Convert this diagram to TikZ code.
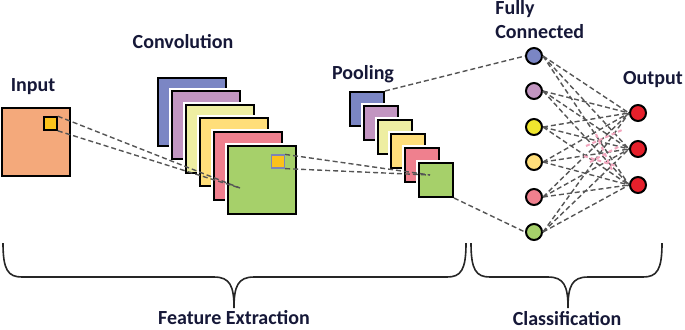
\documentclass[tikz,border=0pt]{standalone}
\usepackage{fontspec}
\setmainfont{Carlito}

\definecolor{txtnavy}{HTML}{161838}
\definecolor{inorange}{HTML}{F4A97B}
\definecolor{winyellow}{HTML}{FBC21B}
\definecolor{mapblue}{HTML}{7B86C4}
\definecolor{mappurple}{HTML}{C295C1}
\definecolor{maplemon}{HTML}{EEEEA2}
\definecolor{mapyellow}{HTML}{FFDE7A}
\definecolor{mappink}{HTML}{EF808E}
\definecolor{mapgreen}{HTML}{A6D06A}
\definecolor{fcyellow}{HTML}{F0E62E}
\definecolor{outred}{HTML}{E5202B}
\definecolor{linkgray}{HTML}{555555}
\definecolor{glowpink}{HTML}{F2A6BE}

\begin{document}
\begin{tikzpicture}[x=0.5pt,y=-0.5pt,
  lbl/.style={font=\bfseries, text=txtnavy, inner sep=0pt},
  fmap/.style={draw=black, line width=1pt, minimum size=34pt, inner sep=0pt,
    preaction={draw=white, line width=2.6pt}},
  pmap/.style={fmap, minimum size=17pt},
  win/.style={draw=black, line width=0.8pt, fill=winyellow, minimum size=6.5pt, inner sep=0pt},
  neuron/.style={circle, draw=black, line width=1pt, minimum size=8pt, inner sep=0pt},
  link/.style={draw=linkgray, dash pattern=on 2.5pt off 1.5pt, line width=0.7pt},
  pinkdash/.style={draw=glowpink, dash pattern=on 2pt off 1.5pt, line width=1pt},
  brace/.style={draw=black!85, line width=0.8pt}]
\useasboundingbox (0,0) rectangle (685,329);

% input image
\node[fmap, fill=inorange] (in) at (36,142) {};
\node[win] (inwin) at (50.5,123.5) {};

% convolution maps
\node[fmap, fill=mapblue] (c1) at (192,112) {};
\node[fmap, fill=mappurple] (c2) at (206,125) {};
\node[fmap, fill=maplemon] (c3) at (220,139) {};
\node[fmap, fill=mapyellow] (c4) at (234,152) {};
\node[fmap, fill=mappink] (c5) at (248,166) {};
\node[fmap, fill=mapgreen] (c6) at (262,180) {};
\node[win, draw=mapblue!80!gray, line width=0.6pt] (cwin) at (278,161.5) {};

% pooling maps
\node[pmap, fill=mapblue] (p1) at (367,109) {};
\node[pmap, fill=mappurple] (p2) at (381,123) {};
\node[pmap, fill=maplemon] (p3) at (395,137) {};
\node[pmap, fill=mapyellow] (p4) at (408,151) {};
\node[pmap, fill=mappink] (p5) at (422,165) {};
\node[pmap, fill=mapgreen] (p6) at (436,180) {};

\coordinate (cfoc) at (240,188);
\coordinate (pfoc) at (430,175);

\draw[link] (inwin.north east) -- (cfoc);
\draw[link] (inwin.south east) -- (cfoc);
\draw[link] (cwin.north east) -- (pfoc);
\draw[link] (cwin.south east) -- (pfoc);

% fully connected and output
\node[neuron, fill=mapblue] (f1) at (534,56) {};
\node[neuron, fill=mappurple] (f2) at (534,91) {};
\node[neuron, fill=fcyellow] (f3) at (534,127) {};
\node[neuron, fill=mapyellow] (f4) at (534,162) {};
\node[neuron, fill=mappink] (f5) at (534,197) {};
\node[neuron, fill=mapgreen] (f6) at (534,232) {};

\node[neuron, fill=outred] (o1) at (638,113) {};
\node[neuron, fill=outred] (o2) at (638,149) {};
\node[neuron, fill=outred] (o3) at (638,185) {};

\draw[link] (p1.north east) -- (f1.west);
\draw[link] (p6.south east) -- (f6.west);

\foreach \f in {1,...,6}
  \foreach \o in {1,2,3}
    \draw[link] (f\f.east) -- (o\o.west);

\draw[pinkdash] (586,146) -- (622,130);
\draw[pinkdash] (590,162) -- (620,146);
\draw[pinkdash] (596,134) -- (612,170);
\draw[pinkdash] (584,156) -- (616,166);

% labels
\node[lbl] (inlbl) at (33,87) {Input};
\node[lbl] (convlbl) at (183,42) {Convolution};
\node[lbl] (poollbl) at (363,74) {Pooling};
\node[lbl, align=left, anchor=west] (fclbl) at (495,20) {Fully\\Connected};
\node[lbl] (outlbl) at (653,80) {Output};

% braces
\draw[brace] (3,243) .. controls (3,270) and (8,277) .. (22,277) -- (214,277)
  .. controls (230,277) and (234,286) .. (234,308)
  .. controls (234,286) and (238,277) .. (254,277) -- (447,277)
  .. controls (461,277) and (466,270) .. (466,243);
\draw[brace] (471,243) .. controls (471,270) and (476,277) .. (490,277) -- (548,277)
  .. controls (564,277) and (568,286) .. (568,308)
  .. controls (568,286) and (572,277) .. (588,277) -- (643,277)
  .. controls (657,277) and (662,270) .. (662,243);

\node[lbl] (felbl) at (234,318) {Feature Extraction};
\node[lbl] (clslbl) at (567,319) {Classification};
\end{tikzpicture}
\end{document}
